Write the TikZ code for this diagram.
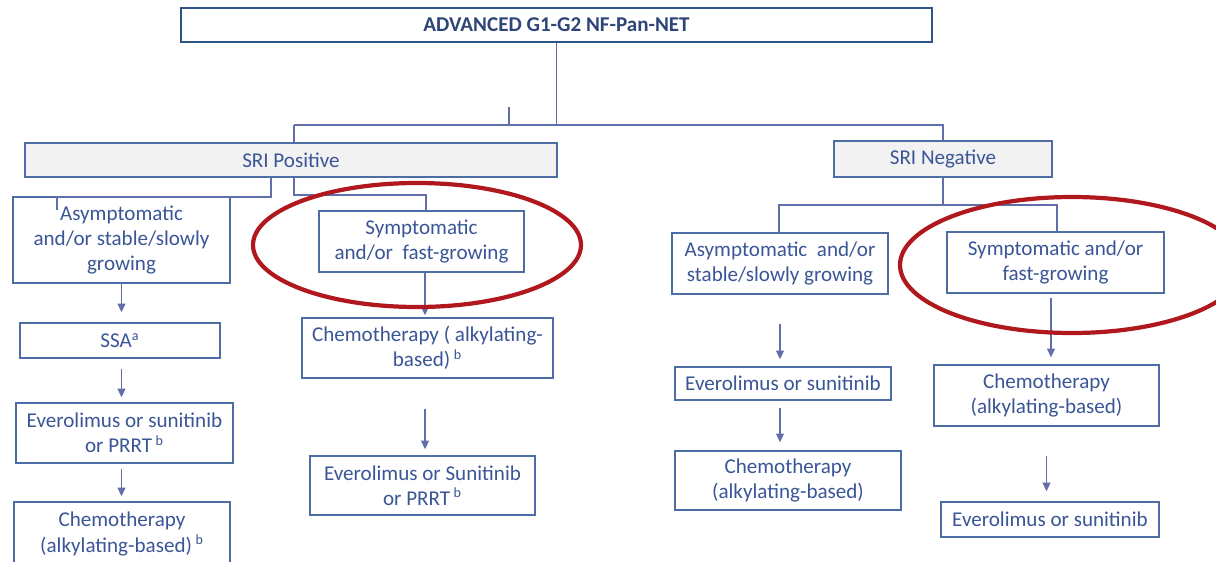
\documentclass[tikz,border=0pt]{standalone}
\usepackage{fontspec}
\setmainfont{Carlito}
\usepackage{xcolor}
\usetikzlibrary{arrows.meta, calc}

\definecolor{txtblue}{RGB}{58,86,150}
\definecolor{boxblue}{RGB}{76,110,165}
\definecolor{topblue}{RGB}{45,85,135}
\definecolor{lineblue}{RGB}{98,110,170}
\definecolor{ringred}{RGB}{176,24,30}
\definecolor{srigray}{RGB}{242,242,242}

\begin{document}
\begin{tikzpicture}[
  x=0.02cm, y=-0.02cm,
  font=\fontsize{12}{14.5}\selectfont,
  box/.style={draw=boxblue, line width=0.8pt, text=txtblue, align=center, inner sep=0pt},
  sri/.style={box, fill=srigray},
  title/.style={draw=topblue, line width=1.5pt, text=txtblue!80!black, font=\fontsize{12}{14.5}\selectfont\bfseries},
  tree/.style={draw=lineblue, line width=0.7pt},
  arr/.style={tree, -{Triangle[length=5pt,width=4.5pt]}},
  ring/.style={draw=ringred, line width=2.4pt}
]
  \fill[white] (0,0) rectangle (1216,561);
  \clip (0,0) rectangle (1216,561);

  \node[title, minimum width=15.02cm, minimum height=0.68cm] (top) at (556.5,25) {ADVANCED G1-G2 NF-Pan-NET};
  \node[sri, minimum width=10.64cm, minimum height=0.68cm] (sripos) at (291,160) {SRI Positive};
  \node[sri, minimum width=4.36cm, minimum height=0.72cm] (srineg) at (943,159) {SRI Negative};

  \node[box, minimum width=4.34cm, minimum height=1.72cm] (pasym) at (121.5,240) {Asymptomatic\\and/or stable/slowly\\growing};
  \node[box, minimum width=4.10cm, minimum height=1.22cm] (psymp) at (421.5,241.5) {Symptomatic\\and/or~ fast-growing};
  \node[box, minimum width=4.00cm, minimum height=0.70cm] (pssa) at (120,340.5) {SSA\textsuperscript{a}};
  \node[box, minimum width=4.34cm, minimum height=1.20cm] (pevero) at (124.5,433) {Everolimus or sunitinib\\or PRRT\,\textsuperscript{b}};
  \node[box, minimum width=4.32cm, minimum height=1.28cm] (pchemo) at (122,534) {Chemotherapy\\(alkylating-based)\,\textsuperscript{b}};
  \node[box, minimum width=5.02cm, minimum height=1.20cm] (pchemo2) at (427.5,348) {Chemotherapy ( alkylating-\\based)\,\textsuperscript{b}};
  \node[box, minimum width=4.50cm, minimum height=1.18cm] (pevero2) at (422.5,485.5) {Everolimus or Sunitinib\\or PRRT\,\textsuperscript{b}};

  \node[box, minimum width=4.32cm, minimum height=1.22cm] (nasym) at (780,263.5) {Asymptomatic~ and/or\\stable/slowly growing};
  \node[box, minimum width=4.34cm, minimum height=1.22cm] (nsymp) at (1055.5,262.5) {Symptomatic and/or\\fast-growing};
  \node[box, minimum width=4.32cm, minimum height=0.66cm] (nevero) at (783,383.5) {Everolimus or sunitinib};
  \node[box, minimum width=4.52cm, minimum height=1.18cm] (nchemo) at (788,480.5) {Chemotherapy\\(alkylating-based)};
  \node[box, minimum width=4.50cm, minimum height=1.22cm] (nchemo2) at (1046.5,395.5) {Chemotherapy\\(alkylating-based)};
  \node[box, minimum width=4.36cm, minimum height=0.70cm] (nevero2) at (1050,519.5) {Everolimus or sunitinib};

  \coordinate (jl) at (294,125);
  \coordinate (jr) at (943,125);
  \coordinate (tick) at (509,107);
  \coordinate (pl) at (271,197);
  \coordinate (pk) at (57,210);
  \coordinate (pr) at (294,195);
  \coordinate (pr2) at (426,195);
  \coordinate (nl) at (779,205);
  \coordinate (nr) at (1057,205);

  \draw[tree] (top.south) -- (top.south |- jl);
  \draw[tree] (tick) |- (top.south |- jl);
  \draw[tree] (jl) -- (jr) -- (srineg.north);
  \draw[tree] (jl) -- (jl |- sripos.north);
  \draw[tree] (sripos.south -| pl) -- (pl) -| (pk);
  \draw[tree] (sripos.south -| pr) -- (pr) -- (pr2) -- (pr2 |- psymp.north);
  \draw[tree] (srineg.south) -- (srineg.south |- nl);
  \draw[tree] (nl |- nasym.north) -- (nl) -- (nr) -- (nr |- nsymp.north);

  \draw[arr, shorten >=0.2cm] (pasym.south) -- (pasym.south |- pssa.north);
  \draw[arr, shorten <=0.2cm, shorten >=0.1cm] (pasym.south |- pssa.south) -- (pasym.south |- pevero.north);
  \draw[arr, shorten <=0.1cm, shorten >=0.1cm] (pasym.south |- pevero.south) -- (pasym.south |- pchemo.north);
  \draw[arr, shorten >=0.04cm] ([xshift=0.07cm]psymp.south) -- ([xshift=0.07cm]psymp.south |- pchemo2.north);
  \draw[arr, shorten <=0.6cm, shorten >=0.12cm] ([xshift=-0.05cm]pchemo2.south) -- ([xshift=-0.05cm]pchemo2.south |- pevero2.north);

  \draw[arr, shorten <=0.58cm, shorten >=0.14cm] (nasym.south) -- (nasym.south |- nevero.north);
  \draw[arr, shorten <=0.14cm, shorten >=0.16cm] (nasym.south |- nevero.south) -- (nasym.south |- nchemo.north);
  \draw[arr, shorten <=0.08cm, shorten >=0.14cm] ([xshift=-0.09cm]nsymp.south) -- ([xshift=-0.09cm]nsymp.south |- nchemo2.north);
  \draw[arr, shorten <=0.58cm, shorten >=0.2cm] (nchemo2.south) -- (nchemo2.south |- nevero2.north);

  \draw[ring] (417,245) ellipse [x radius=164, y radius=62];
  \draw[ring] (1072,265) ellipse [x radius=172, y radius=68];
\end{tikzpicture}
\end{document}
